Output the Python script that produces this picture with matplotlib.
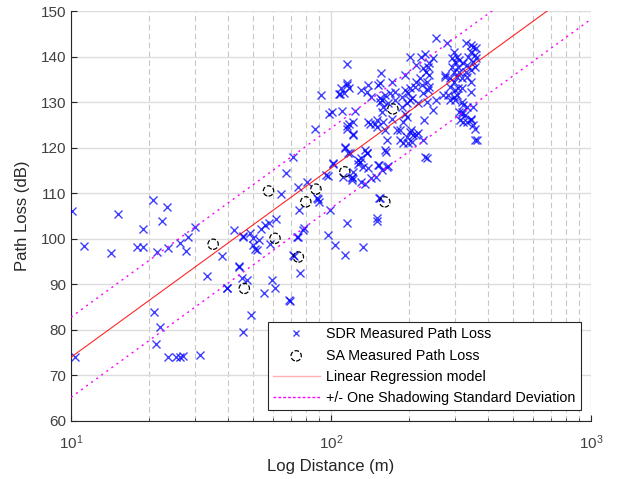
import numpy as np
import matplotlib.pyplot as plt
from matplotlib.lines import Line2D

plt.rcParams['font.family'] = ['Liberation Sans', 'DejaVu Sans']

# SDR measurements: distance (m), path loss (dB)
sdr_dist = [
    10.1, 11.2, 15.2, 14.3, 19.0, 17.9, 19.0, 20.6, 22.3, 23.5, 21.4, 23.7, 26.3, 27.8, 28.1, 30.0,
    33.2, 20.9, 21.9, 21.2, 10.4, 23.7, 25.3, 26.3, 27.0, 31.3, 38.2, 39.7, 44.2, 42.2, 45.8, 45.4,
    67.0, 64.2, 74.9, 81.0, 89.4, 75.5, 61.4, 55.6, 53.6, 46.0, 48.7, 50.3, 52.9, 51.0, 50.3, 58.4,
    44.3, 47.4, 39.9, 59.1, 60.9, 55.3, 68.9, 49.1, 74.9, 71.5, 76.0, 78.0, 97.7, 103.4, 113.0, 115.4,
    99.0, 111.0, 120.0, 96.0, 79.0, 74.0, 72.0, 69.7, 45.8, 51.8, 57.6, 91.3, 98.6, 107.0, 86.6, 71.5,
    97.0, 101.6, 88.0, 90.0,
    116.5, 137.0, 163.0, 129.0, 102.0, 122.0, 120.0, 139.0, 153.0, 165.0, 142.0, 149.0, 135.0, 153.0,
    150.0, 133.0, 154.0, 150.0, 229.0,
    115.0, 156.0, 202.0, 222.0, 230.0, 213.0, 226.0, 115.0, 112.0, 108.0, 139.0, 152.0, 130.0, 137.0,
    101.0, 110.0, 124.0, 122.0, 115.0, 121.0, 113.0, 139.0, 147.0, 154.0, 161.0, 168.0, 154.0, 159.0,
    166.0, 157.0, 150.0, 159.0, 171.0, 161.0, 164.0, 161.0, 135.0, 131.0, 127.0, 187.0, 196.0, 198.0,
    210.0, 223.0, 234.0, 205.0, 216.0, 226.0, 236.0, 192.0, 190.0, 185.0, 203.0, 196.0, 213.0, 205.0,
    226.0, 234.0,
    254.0, 279.0, 239.0, 231.0, 220.0, 192.0, 212.0, 239.0, 202.0, 192.0, 274.0, 270.0, 283.0, 304.0,
    299.0, 318.0, 333.0, 353.0, 329.0, 313.0, 323.0, 333.0, 345.0, 357.0, 364.0, 318.0, 309.0,
    330.0, 344.0, 353.0, 362.0, 346.0, 357.0, 337.0, 362.0, 353.0, 296.0, 304.0, 291.0, 299.0, 312.0,
    323.0, 333.0, 309.0, 291.0, 296.0, 312.0, 330.0, 344.0, 357.0, 304.0, 286.0, 318.0, 333.0, 296.0,
    274.0, 344.0, 286.0, 299.0, 318.0, 346.0, 286.0, 296.0, 323.0, 312.0, 318.0, 346.0, 353.0, 228.0,
    357.0, 247.0, 236.0, 239.0,
    109.0, 117.0, 115.0, 117.0, 122.0, 115.0, 141.0, 150.0, 113.0, 118.0, 127.0, 137.0, 133.0, 120.0,
    131.0, 152.0, 157.0, 164.0, 185.0, 190.0, 198.0, 207.0, 202.0, 216.0, 179.0, 196.0, 247.0, 254.0,
    234.0, 202.0, 187.0, 176.0, 157.0, 154.0, 171.0, 176.0, 143.0,
]
sdr_loss = [
    106.2, 98.4, 105.4, 96.9, 102.1, 98.3, 98.1, 108.5, 103.9, 107.0, 97.2, 98.0, 99.1, 97.4, 100.5, 102.5,
    91.8, 84.0, 80.7, 76.9, 74.1, 74.0, 74.0, 74.1, 74.3, 74.5, 96.2, 89.3, 94.0, 101.9, 100.5, 91.5,
    114.5, 109.8, 111.4, 112.5, 108.7, 106.3, 104.3, 103.0, 102.1, 100.6, 101.2, 100.1, 99.7, 97.7, 98.6, 98.8,
    93.9, 90.9, 89.1, 90.9, 89.3, 88.0, 86.5, 83.3, 100.5, 96.4, 92.4, 101.9, 100.8, 98.6, 96.4, 103.5,
    106.3, 113.6, 113.3, 114.0, 102.3, 100.3, 96.2, 86.4, 79.6, 97.5, 103.5, 131.6, 127.5, 131.8, 124.2, 118.0,
    113.8, 116.6, 108.9, 108.1,
    118.8, 118.9, 119.1, 116.9, 116.4, 114.7, 113.0, 115.5, 116.2, 116.0, 113.3, 113.6, 112.0, 109.0,
    104.0, 98.3, 108.9, 104.5, 118.0,
    138.3, 136.3, 139.8, 139.8, 140.5, 138.1, 137.4, 133.7, 131.9, 131.8, 133.7, 133.7, 132.7, 132.3,
    127.9, 128.1, 128.1, 125.7, 124.7, 123.0, 119.9, 125.7, 125.3, 130.8, 131.6, 131.9, 130.1, 129.0,
    129.7, 127.9, 126.1, 125.7, 126.4, 123.9, 121.7, 119.5, 119.5, 117.7, 116.5, 129.0, 129.7, 131.9,
    133.4, 133.7, 134.5, 130.8, 129.7, 131.9, 132.7, 127.5, 125.7, 123.9, 123.9, 122.4, 122.8, 121.3,
    121.7, 117.7,
    144.0, 143.0, 138.5, 136.7, 135.2, 135.9, 134.5, 133.4, 133.2, 132.6, 135.9, 131.6, 131.6, 131.6,
    130.5, 130.1, 129.0, 129.0, 127.2, 126.1, 125.7, 125.7, 126.1, 124.2, 121.7, 127.5, 133.0,
    142.9, 142.5, 142.1, 141.8, 141.1, 140.3, 140.0, 139.6, 138.9, 141.1, 140.0, 139.6, 138.9, 139.3,
    138.5, 138.1, 137.7, 137.7, 136.7, 136.7, 136.7, 137.0, 137.7, 135.6, 135.2, 135.2, 135.6, 134.5,
    135.6, 134.5, 133.4, 132.7, 133.0, 132.3, 130.5, 131.2, 129.4, 127.9, 127.9, 126.4, 125.0, 126.1,
    121.7, 139.6, 137.7, 136.0,
    133.0, 133.0, 134.1, 125.3, 122.8, 124.2, 125.3, 124.6, 120.2, 118.8, 117.3, 118.8, 115.8, 113.6,
    112.5, 116.2, 115.1, 115.8, 121.7, 121.0, 121.0, 122.8, 123.5, 123.2, 123.9, 126.8, 128.3, 130.5,
    130.1, 130.5, 131.2, 130.5, 130.5, 134.1, 134.5, 132.3, 131.2,
]

# SA measurements
sa_dist = [35.2, 46.4, 57.5, 60.9, 74.9, 80.0, 87.5, 113.0, 161.0, 173.0]
sa_loss = [98.8, 89.1, 110.5, 100.1, 96.0, 108.1, 110.9, 114.7, 108.1, 128.5]

# log-distance model: PL(d) = PL0 + 10 n log10(d / d0)
d0 = 10.0
pl0 = 74.0
n_exp = 4.15
sigma = 8.8

d_fit = np.logspace(1, 3, 200)
pl_fit = pl0 + 10 * n_exp * np.log10(d_fit / d0)

fig = plt.figure(figsize=(6.18, 4.79), dpi=100)
ax = fig.add_axes([0.1149, 0.1211, 0.8414, 0.8559])

ax.plot(sdr_dist, sdr_loss, 'x', color='blue', markersize=5.5, markeredgewidth=1.0, alpha=0.75, zorder=3)
sa = ax.scatter(sa_dist, sa_loss, s=55, facecolors='none', edgecolors='black', linewidths=0.9,
                linestyles='--', zorder=4)
ax.plot(d_fit, pl_fit, color='red', linewidth=0.8, alpha=0.85, zorder=5)
ax.plot(d_fit, pl_fit + sigma, color='magenta', linewidth=1.0, linestyle=(0, (1.5, 3)), zorder=5)
ax.plot(d_fit, pl_fit - sigma, color='magenta', linewidth=1.0, linestyle=(0, (1.5, 3)), zorder=5)

ax.set_xscale('log')
ax.set_xlim(10, 1000)
ax.set_ylim(60, 150)
ax.set_yticks(np.arange(60, 151, 10))

# grid: solid major lines, dashed minor vertical lines
ax.grid(True, axis='y', which='major', color='#dcdcdc', linewidth=1.0, linestyle='-')
ax.grid(True, axis='x', which='major', color='#dcdcdc', linewidth=1.0, linestyle='-')
ax.grid(True, axis='x', which='minor', color='#c8c8c8', linewidth=0.8, linestyle=(0, (5, 3)))
ax.set_axisbelow(True)

for side in ['top', 'right']:
    ax.spines[side].set_visible(False)
for side in ['left', 'bottom']:
    ax.spines[side].set_color('#262626')
    ax.spines[side].set_linewidth(0.8)

ax.tick_params(which='both', direction='in', colors='#262626', labelsize=11)
ax.tick_params(axis='both', which='both', labelcolor='#404040')
ax.tick_params(which='major', length=4)
ax.tick_params(which='minor', length=2.5)
ax.tick_params(axis='x', pad=9)

ax.set_xlabel('Log Distance (m)', fontsize=12, color='#262626', labelpad=5)
ax.set_ylabel('Path Loss (dB)', fontsize=12, color='#262626', labelpad=8)

handles = [
    Line2D([], [], linestyle='none', marker='x', color='blue', markersize=5, markeredgewidth=1.0,
           alpha=0.75),
    sa,
    Line2D([], [], color='#ffb0b0', linewidth=1.0),
    Line2D([], [], color='magenta', linewidth=1.0, linestyle=(0, (2, 1.5))),
]
labels = ['SDR Measured Path Loss', 'SA Measured Path Loss', 'Linear Regression model',
          '+/- One Shadowing Standard Deviation']
leg = ax.legend(handles, labels, loc='lower right', bbox_to_anchor=(0.98, 0.027), fontsize=10.3,
                frameon=True, fancybox=False, edgecolor='#262626', framealpha=1.0,
                handlelength=3.3, handletextpad=0.45, borderpad=0.35, labelspacing=0.5,
                borderaxespad=0.0)
leg.get_frame().set_linewidth(0.8)

fig.savefig('out.png', dpi=100)
